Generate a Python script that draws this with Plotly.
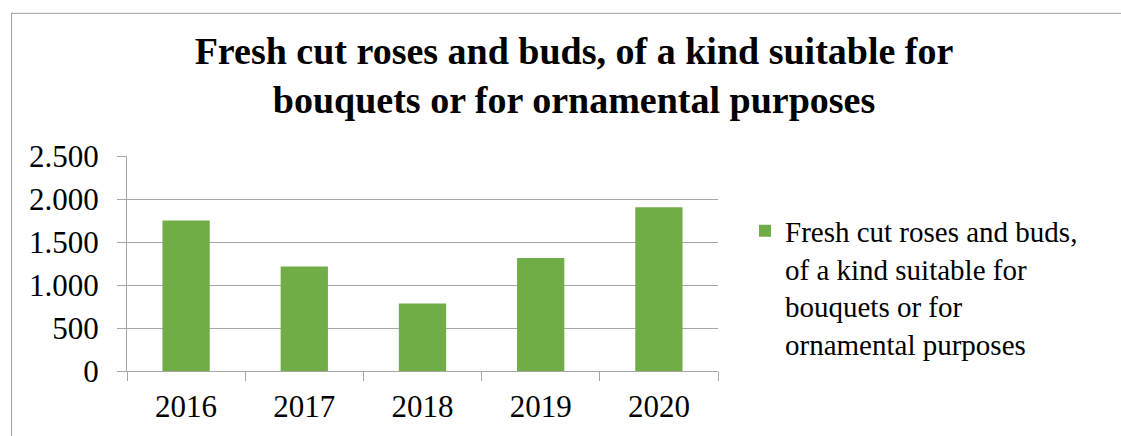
import plotly.graph_objects as go

years = ["2016", "2017", "2018", "2019", "2020"]
values = [1750, 1215, 785, 1315, 1905]
series_name = "Fresh cut roses and buds,<br>of a kind suitable for<br>bouquets or for<br>ornamental purposes"
title_text = "<b>Fresh cut roses and buds, of a kind suitable for<br>bouquets or for ornamental purposes</b>"
y_ticks = [0, 500, 1000, 1500, 2000, 2500]
y_tick_labels = ["0", "500", "1.000", "1.500", "2.000", "2.500"]

SERIF = "Liberation Serif"
GRID = "#A6A6A6"
BORDER = "#A0A0A0"
W, H = 1121, 436
L, R, T, B = 127, 403, 155.5, 65
PW, PH = W - L - R, H - T - B


def px_x(px):
    """Pixel column -> paper x (plot-area fraction)."""
    return (px - L) / PW


def px_y(py):
    """Pixel row (from top) -> paper y (plot-area fraction)."""
    return (H - B - py) / PH


fig = go.Figure()
fig.add_trace(go.Bar(
    x=years, y=values, name=series_name,
    marker=dict(color="#70AD47", line=dict(width=0)),
    showlegend=True,
))

fig.update_layout(
    width=W, height=H,
    margin=dict(l=L, r=R, t=T, b=B, pad=0),
    paper_bgcolor="white", plot_bgcolor="white",
    bargap=0.6,
    font=dict(family=SERIF, color="black", size=29),
    title=dict(
        text=title_text,
        font=dict(family=SERIF, size=38, color="black"),
        x=574 / W, xanchor="center", xref="container",
        y=1 - 64 / H, yanchor="top", yref="container",
    ),
    showlegend=True,
    legend=dict(
        x=px_x(745), xanchor="left",
        y=px_y(205), yanchor="top",
        valign="top",
        font=dict(family=SERIF, size=29, color="black"),
        bgcolor="rgba(0,0,0,0)", borderwidth=0,
        itemwidth=30, tracegroupgap=0,
    ),
    xaxis=dict(
        showline=True, linecolor=GRID, linewidth=1,
        showgrid=False,
        ticks="outside", ticklen=9, tickcolor=GRID, tickwidth=1,
        tickson="boundaries",
        tickfont=dict(family=SERIF, size=31, color="black"),
        ticklabelstandoff=8,
    ),
    yaxis=dict(
        range=[0, 2500],
        tickvals=y_ticks, ticktext=y_tick_labels,
        showline=True, linecolor=GRID, linewidth=1,
        showgrid=True, gridcolor=GRID, gridwidth=1,
        zeroline=False,
        ticks="outside", ticklen=9, tickcolor=GRID, tickwidth=1,
        tickfont=dict(family=SERIF, size=31, color="black"),
        ticklabelstandoff=12,
    ),
    shapes=[
        # chart frame: top edge and left edge
        dict(type="line", xref="paper", yref="paper",
             x0=px_x(11), x1=px_x(W + 5), y0=px_y(12.5), y1=px_y(12.5),
             line=dict(color=BORDER, width=1), layer="below"),
        dict(type="line", xref="paper", yref="paper",
             x0=px_x(11.5), x1=px_x(11.5), y0=px_y(12), y1=px_y(H + 5),
             line=dict(color=BORDER, width=1), layer="below"),
    ],
)

fig.write_html("out.html")
